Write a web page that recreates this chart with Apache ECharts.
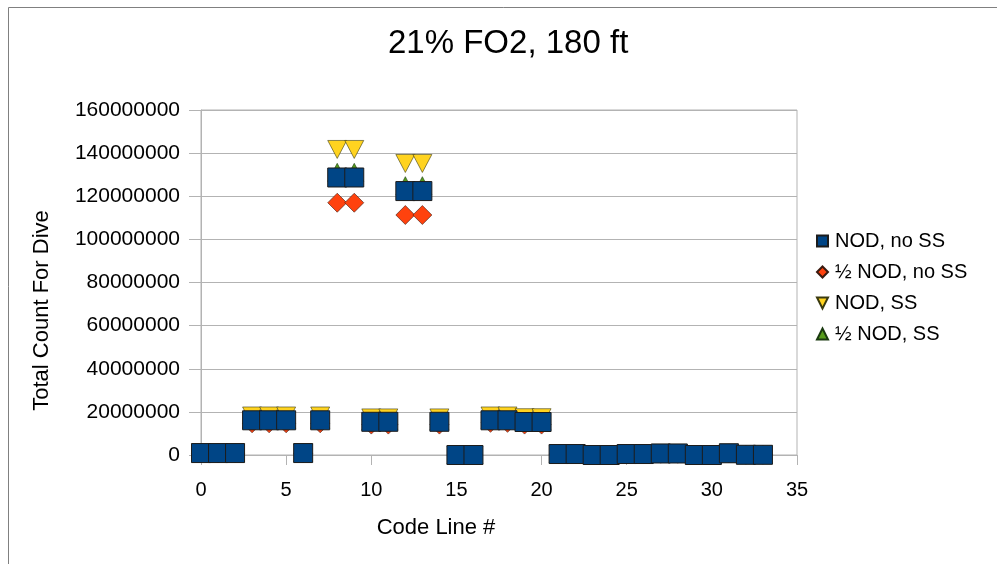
<!DOCTYPE html>
<html>
<head>
<meta charset="utf-8">
<script src="https://cdn.jsdelivr.net/npm/echarts@6/dist/echarts.min.js"></script>
<style>
  html, body { margin: 0; padding: 0; background: #ffffff; }
  #chart { width: 997px; height: 564px; }
</style>
</head>
<body>
<div id="chart"></div>
<script>
// Code line numbers (x values)
const codeLine = [0, 1, 2, 3, 4, 5, 6, 7, 8, 9, 10, 11, 12, 13, 14, 15, 16,
  17, 18, 19, 20, 21, 22, 23, 24, 25, 26, 27, 28, 29, 30, 31, 32, 33];

// Total count for dive, one value per code line
const nodNoSS = [900000, 900000, 900000, 16100000, 16100000, 16100000, 900000, 16100000,
  128700000, 128700000, 15400000, 15400000, 122400000, 122400000, 15400000, 0, 0,
  16100000, 16100000, 15300000, 15300000, 450000, 450000, 0, 0, 450000, 450000,
  700000, 700000, 0, 0, 800000, 100000, 100000];

const halfNodNoSS = [800000, 800000, 800000, 14700000, 14700000, 14700000, 800000, 14700000,
  117000000, 117000000, 14100000, 14100000, 111300000, 111300000, 14100000, 0, 0,
  14900000, 14900000, 14100000, 14100000, 400000, 400000, 0, 0, 400000, 400000,
  600000, 600000, 0, 0, 700000, 100000, 100000];

const nodSS = [1000000, 1000000, 1000000, 18100000, 18100000, 18100000, 1000000, 18100000,
  141700000, 141700000, 17200000, 17200000, 135200000, 135200000, 17200000, 0, 0,
  18100000, 18100000, 17300000, 17300000, 500000, 500000, 0, 0, 500000, 500000,
  800000, 800000, 0, 0, 900000, 100000, 100000];

const halfNodSS = [900000, 900000, 900000, 16500000, 16500000, 16500000, 900000, 16500000,
  131100000, 131100000, 15800000, 15800000, 124900000, 124900000, 15800000, 0, 0,
  16500000, 16500000, 15700000, 15700000, 450000, 450000, 0, 0, 450000, 450000,
  700000, 700000, 0, 0, 800000, 100000, 100000];

const seriesNames = ['NOD, no SS', '½ NOD, no SS', 'NOD, SS', '½ NOD, SS'];

const pairs = ys => codeLine.map((x, i) => [x, ys[i]]);

const FONT = '"Liberation Sans", Arial, sans-serif';
const downTriangle = 'path://M0,0 L2,0 L1,2 Z';
const upTriangle = 'path://M1,0 L2,2 L0,2 Z';

const chart = echarts.init(document.getElementById('chart'), null, { renderer: 'canvas' });

// Series are listed back to front: the squares are painted last, over the others.
chart.setOption({
  backgroundColor: '#ffffff',
  animation: false,
  title: {
    text: '21% FO2, 180 ft',
    left: 383,
    top: 22,
    textStyle: { fontFamily: FONT, fontSize: 33, fontWeight: 'normal', color: '#000000' }
  },
  legend: {
    orient: 'vertical',
    left: 811,
    top: 226,
    itemWidth: 11,
    itemHeight: 11,
    itemGap: 11,
    textStyle: { fontFamily: FONT, fontSize: 20, color: '#000000', padding: [0, 0, 0, 2] },
    data: seriesNames
  },
  grid: {
    left: 201,
    right: 200,
    top: 110,
    bottom: 109,
    show: true,
    borderColor: '#b3b3b3',
    borderWidth: 1
  },
  xAxis: {
    type: 'value',
    min: 0,
    max: 35,
    interval: 5,
    name: 'Code Line #',
    nameLocation: 'middle',
    nameGap: 62,
    nameTextStyle: { fontFamily: FONT, fontSize: 22, color: '#000000', padding: [0, 126, 0, 0] },
    axisLine: { show: true, onZero: false, lineStyle: { color: '#b3b3b3', width: 1 } },
    axisTick: { show: true, length: 10, lineStyle: { color: '#b3b3b3' } },
    axisLabel: { fontFamily: FONT, fontSize: 20, color: '#000000', margin: 25 },
    splitLine: { show: false }
  },
  yAxis: {
    type: 'value',
    min: 0,
    max: 160000000,
    interval: 20000000,
    name: 'Total Count For Dive',
    nameLocation: 'middle',
    nameGap: 148,
    nameTextStyle: { fontFamily: FONT, fontSize: 22, color: '#000000', padding: [0, 56, 0, 0] },
    axisLine: { show: true, lineStyle: { color: '#b3b3b3', width: 1 } },
    axisTick: { show: true, length: 12, lineStyle: { color: '#b3b3b3' } },
    axisLabel: {
      fontFamily: FONT, fontSize: 21, color: '#000000', margin: 21,
      formatter: v => String(v)
    },
    splitLine: { show: true, lineStyle: { color: '#b3b3b3', width: 1 } }
  },
  series: [
    {
      name: seriesNames[1],
      type: 'scatter',
      symbol: 'diamond',
      symbolSize: 19,
      itemStyle: { color: '#ff420e', borderColor: '#3a1a10', borderWidth: 0.6, opacity: 1 },
      data: pairs(halfNodNoSS)
    },
    {
      name: seriesNames[3],
      type: 'scatter',
      symbol: upTriangle,
      symbolSize: [19, 18],
      symbolKeepAspect: false,
      itemStyle: { color: '#579d1c', borderColor: '#1a3a10', borderWidth: 0.6, opacity: 1 },
      data: pairs(halfNodSS)
    },
    {
      name: seriesNames[2],
      type: 'scatter',
      symbol: downTriangle,
      symbolSize: [19, 18],
      symbolKeepAspect: false,
      itemStyle: { color: '#ffd320', borderColor: '#3a3a10', borderWidth: 0.6, opacity: 1 },
      data: pairs(nodSS)
    },
    {
      name: seriesNames[0],
      type: 'scatter',
      symbol: 'rect',
      symbolSize: 19,
      itemStyle: { color: '#004586', borderColor: '#1c1c1c', borderWidth: 1, opacity: 1 },
      data: pairs(nodNoSS)
    }
  ],
  graphic: [
    {
      type: 'rect',
      silent: true,
      shape: { x: 8.5, y: 7.5, width: 1000, height: 600 },
      style: { fill: 'none', stroke: '#808080', lineWidth: 1 }
    }
  ]
});
</script>
</body>
</html>
